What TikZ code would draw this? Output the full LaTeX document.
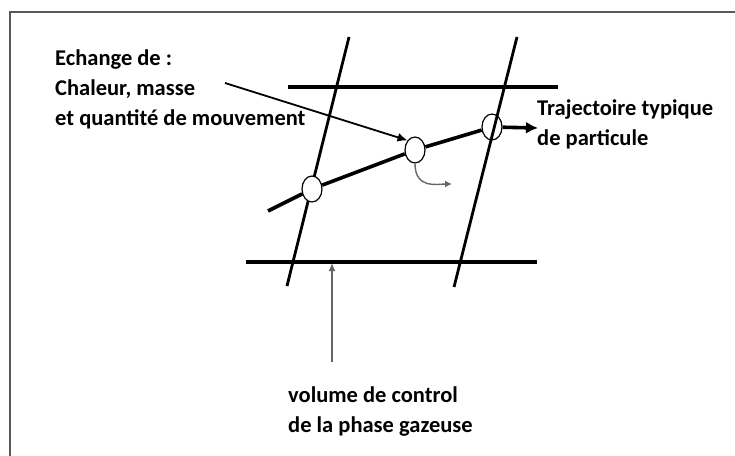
\documentclass[tikz,border=0pt]{standalone}
\usepackage{fontspec}
\setmainfont{Carlito}
\usetikzlibrary{shapes.geometric,arrows.meta}

\begin{document}
\begin{tikzpicture}[x=1pt,y=-1pt,>=Latex,
      wall/.style={line width=2.8pt},
      plate/.style={line width=3.6pt},
      hole/.style={ellipse,draw,line width=1.2pt,minimum width=20pt,minimum height=26pt,inner sep=0pt},
      note/.style={font=\bfseries\fontsize{22.5}{30}\selectfont,align=left,inner sep=0pt,anchor=west}]
      \useasboundingbox (0,0) rectangle (735,455);
      \draw[black!65,line width=2pt] (10,470) |- (750,12);

      % control volume
      \coordinate (l top) at (349,37);
      \coordinate (l bot) at (287,286);
      \coordinate (r top) at (517,37);
      \coordinate (r bot) at (454,287);
      \coordinate (up w) at (288,87);
      \coordinate (up e) at (558,87);
      \coordinate (low w) at (246,262);
      \coordinate (low e) at (537,262);
      \draw[wall] (l top) -- (l bot);
      \draw[wall] (r top) -- (r bot);
      \draw[plate] (up w) -- (up e);
      \draw[plate] (low w) -- (low e);

      % particle
      \coordinate (start) at (268,211);
      \node[hole,fill=white] (p1) at (312,189) {};
      \node[hole,fill=white] (p2) at (415,150) {};
      \node[hole] (p3) at (492,127) {};
      \coordinate (end) at (538,128);
      \draw[line width=3.6pt] (start) -- (p1) -- (p2) -- (p3);
      \draw[line width=3.6pt,-{Latex[length=12pt,width=12pt]}] (p3) -- (end);
      \coordinate (drop) at (452,184);
      \draw[black!60,line width=1.4pt,-{Latex[length=7pt,width=7pt]}]
        (p2.south) .. controls +(0,26) and +(-14,0) .. (drop);

      % labels
      \node[note] (xchg) at (55,89) {Echange de :\\Chaleur, masse\\et quantité de mouvement};
      \node[note] (traj) at (537,124) {Trajectoire typique\\de particule};
      \node[note] (vol) at (288,412) {volume de control\\de la phase gazeuse};
      \coordinate (xchg src) at (225,83);
      \coordinate (vol src) at (332,362);
      \coordinate (vol tip) at (332,263);
      \draw[line width=1.8pt,-{Latex[length=10pt,width=9pt]}] (xchg src) -- (p2.north west);
      \draw[black!60,line width=1.4pt,-{Latex[length=8pt,width=7pt]}] (vol src) -- (vol tip);
\end{tikzpicture}
\end{document}
